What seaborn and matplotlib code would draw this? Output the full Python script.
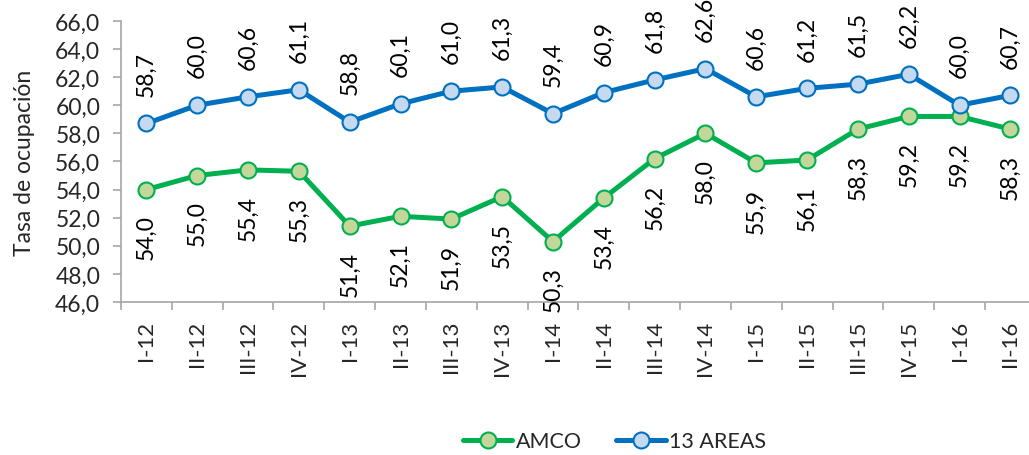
import matplotlib
matplotlib.use("Agg")
import matplotlib.pyplot as plt
import seaborn as sns
import pandas as pd
import numpy as np
from matplotlib.ticker import FixedLocator, FuncFormatter

categories = ["I-12", "II-12", "III-12", "IV-12", "I-13", "II-13", "III-13", "IV-13",
              "I-14", "II-14", "III-14", "IV-14", "I-15", "II-15", "III-15", "IV-15",
              "I-16", "II-16"]
amco = [54.0, 55.0, 55.4, 55.3, 51.4, 52.1, 51.9, 53.5, 50.3, 53.4, 56.2, 58.0,
        55.9, 56.1, 58.3, 59.2, 59.2, 58.3]
areas13 = [58.7, 60.0, 60.6, 61.1, 58.8, 60.1, 61.0, 61.3, 59.4, 60.9, 61.8, 62.6,
           60.6, 61.2, 61.5, 62.2, 60.0, 60.7]

sns.set_theme(style="white")
plt.rcParams['font.family'] = ['Lato', 'DejaVu Sans']

df = pd.DataFrame({"pos": np.arange(len(categories)), "cat": categories,
                   "AMCO": amco, "13 AREAS": areas13})

fig = plt.figure(figsize=(10.29, 4.56), dpi=100)
ax = fig.add_axes([0.1176, 0.3355, 0.889, 0.6165])

green = "#00B050"
green_face = "#C4D79B"
blue = "#0070C0"
blue_face = "#C5D9F1"

sns.lineplot(data=df, x="pos", y="AMCO", ax=ax, color=green, linewidth=3.6,
             marker="o", markersize=11.5, markerfacecolor=green_face,
             markeredgecolor=green, markeredgewidth=1.5, label="AMCO")
sns.lineplot(data=df, x="pos", y="13 AREAS", ax=ax, color=blue, linewidth=3.6,
             marker="o", markersize=11.5, markerfacecolor=blue_face,
             markeredgecolor=blue, markeredgewidth=1.5, label="13 AREAS")

fmt = lambda v: f"{v:.1f}".replace(".", ",")
for i, v in enumerate(areas13):
    ax.annotate(fmt(v), (i, v), xytext=(0, 20), textcoords="offset points",
                rotation=90, ha="center", va="bottom", fontsize=16.5, color="black")
for i, v in enumerate(amco):
    ax.annotate(fmt(v), (i, v), xytext=(0, -18), textcoords="offset points",
                rotation=90, ha="center", va="top", fontsize=16.5, color="black")

ax.set_xlim(-0.5, len(categories) - 0.5)
ax.set_ylim(46, 66)
ax.set_yticks(np.arange(46, 66.1, 2))
ax.yaxis.set_major_formatter(FuncFormatter(lambda v, p: fmt(v)))
ax.set_xticks(np.arange(len(categories)))
ax.set_xticklabels(categories, rotation=90, fontsize=16)
ax.xaxis.set_minor_locator(FixedLocator(np.arange(-0.5, len(categories), 1.0)))
ax.tick_params(axis="x", which="major", length=0, pad=13)
ax.tick_params(axis="x", which="minor", length=6, width=1.2, color="#A6A6A6", direction="out", bottom=True)
ax.tick_params(axis="y", which="major", length=6, width=1.2, color="#A6A6A6", direction="out",
               labelsize=16.5, pad=9, left=True)

for s in ["top", "right"]:
    ax.spines[s].set_visible(False)
for s in ["left", "bottom"]:
    ax.spines[s].set_color("#A6A6A6")
    ax.spines[s].set_linewidth(1.2)

ax.set_xlabel("")
ax.set_ylabel("Tasa de ocupación", fontsize=16.5, labelpad=4)
ax.yaxis.set_label_coords(-0.094, 0.5)
ax.grid(False)

ax.get_legend().remove()
handles, labels = ax.get_legend_handles_labels()
fig.legend(handles, labels, loc="center", bbox_to_anchor=(0.597, 0.03), ncol=2, frameon=False,
           fontsize=15.5, handlelength=2.3, columnspacing=1.6, handletextpad=0.15)

fig.savefig("out.png", dpi=100)
